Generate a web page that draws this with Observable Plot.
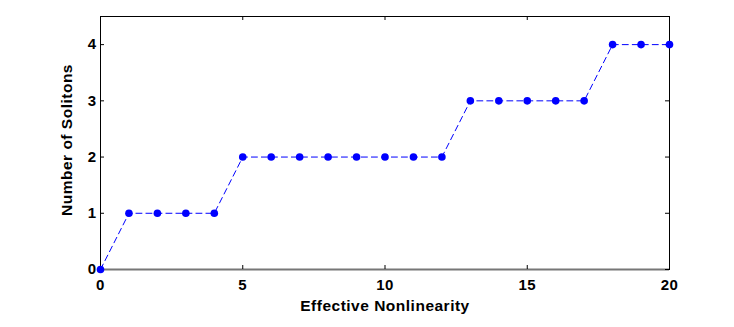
<!DOCTYPE html>
<html><head><meta charset="utf-8">
<script src="https://cdn.jsdelivr.net/npm/d3@7"></script>
<script src="https://cdn.jsdelivr.net/npm/@observablehq/plot@0.6"></script>
<style>body{margin:0;background:#fff;} svg{font-family:"Liberation Sans",Arial,sans-serif;} svg text{font-weight:bold;letter-spacing:0.5px;}</style>
</head><body><div id="chart"></div>
<script>
const nonlinearity = [0,1,2,3,4,5,6,7,8,9,10,11,12,13,14,15,16,17,18,19,20];
const solitons = [0,1,1,1,1,2,2,2,2,2,2,2,2,3,3,3,3,3,4,4,4];
const xTicks = [0,5,10,15,20];
const yTicks = [0,1,2,3,4];
const data = nonlinearity.map((x,i)=>({x, y: solitons[i]}));
const W=734,H=327,mT=16,mB=58,mL=100,mR=65;
const innerH = H-mT-mB, innerW = W-mL-mR;
const chart = Plot.plot({
  width: W, height: H, marginTop: mT, marginBottom: mB, marginLeft: mL, marginRight: mR,
  style: {fontSize: "15px", fontFamily: "'Liberation Sans', Arial, sans-serif", color: "#000", background: "#fff"},
  x: {domain: [0,20]},
  y: {domain: [0,4.5]},
  marks: [
    Plot.frame({stroke: "#000"}),
    Plot.ruleY([0], {stroke: "#777", strokeWidth: 2}),
    Plot.ruleX(xTicks, {stroke: "#000", insetTop: innerH-4}),
    Plot.ruleX(xTicks, {stroke: "#000", insetBottom: innerH-4}),
    Plot.ruleY(yTicks, {stroke: "#000", insetRight: innerW-4}),
    Plot.ruleY(yTicks, {stroke: "#000", insetLeft: innerW-4}),
    Plot.axisX(xTicks, {tickSize: 0, tickPadding: 10, label: null, fontSize: 15, tickFormat: d3.format("d")}),
    Plot.axisY(yTicks, {tickSize: 0, tickPadding: 4, label: null, fontSize: 15, tickFormat: d3.format("d")}),
    Plot.text(["Effective Nonlinearity"], {frameAnchor: "bottom", dy: 41, fontSize: 15.5}),
    Plot.text(["Number of Solitons"], {frameAnchor: "left", textAnchor: "middle", dx: -33, dy: -3, rotate: -90, fontSize: 15.5}),
    Plot.line(data, {x: "x", y: "y", stroke: "#0000ff", strokeWidth: 1, strokeDasharray: "6,4"}),
    Plot.dot(data, {x: "x", y: "y", r: 3.8, fill: "#0000ff", stroke: "none"})
  ]
});
document.getElementById("chart").append(chart);
</script></body></html>
